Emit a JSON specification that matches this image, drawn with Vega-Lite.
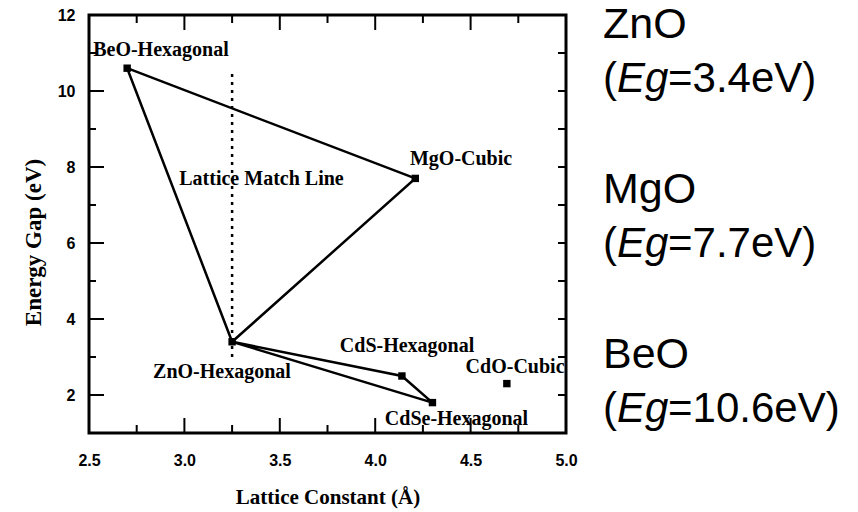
{
  "$schema": "https://vega.github.io/schema/vega-lite/v6.json",
  "width": 477,
  "height": 418,
  "autosize": {"type": "none"},
  "padding": {"left": 89, "top": 15, "right": 292, "bottom": 79},
  "background": "white",
  "config": {
    "view": {"stroke": "black", "strokeWidth": 3},
    "axis": {
      "grid": false,
      "domain": false,
      "labelColor": "black",
      "titleColor": "black",
      "labelFlush": false
    }
  },
  "datasets": {
    "compounds": [
      {"compound": "BeO", "a": 2.70, "eg": 10.6},
      {"compound": "MgO", "a": 4.21, "eg": 7.7},
      {"compound": "ZnO", "a": 3.25, "eg": 3.4},
      {"compound": "CdS", "a": 4.14, "eg": 2.5},
      {"compound": "CdSe", "a": 4.30, "eg": 1.8},
      {"compound": "CdO", "a": 4.69, "eg": 2.3}
    ],
    "edges": [
      {"loop": "BeO-MgO-ZnO", "step": 1, "compound": "BeO"},
      {"loop": "BeO-MgO-ZnO", "step": 2, "compound": "MgO"},
      {"loop": "BeO-MgO-ZnO", "step": 3, "compound": "ZnO"},
      {"loop": "BeO-MgO-ZnO", "step": 4, "compound": "BeO"},
      {"loop": "ZnO-CdS-CdSe", "step": 1, "compound": "ZnO"},
      {"loop": "ZnO-CdS-CdSe", "step": 2, "compound": "CdS"},
      {"loop": "ZnO-CdS-CdSe", "step": 3, "compound": "CdSe"},
      {"loop": "ZnO-CdS-CdSe", "step": 4, "compound": "ZnO"}
    ],
    "matchLine": [
      {"a": 3.25, "egLow": 3.0, "egHigh": 10.5}
    ],
    "labels": [
      {"label": "BeO-Hexagonal", "a": 2.877, "eg": 10.92},
      {"label": "MgO-Cubic", "a": 4.45, "eg": 8.05},
      {"label": "Lattice Match Line", "a": 3.404, "eg": 7.53},
      {"label": "ZnO-Hexagonal", "a": 3.197, "eg": 2.45},
      {"label": "CdS-Hexagonal", "a": 4.167, "eg": 3.13},
      {"label": "CdO-Cubic", "a": 4.733, "eg": 2.58},
      {"label": "CdSe-Hexagonal", "a": 4.426, "eg": 1.21}
    ],
    "notes": [
      {"compound": "ZnO", "eg": 3.4, "noteEg": 11.39},
      {"compound": "MgO", "eg": 7.7, "noteEg": 7.05},
      {"compound": "BeO", "eg": 10.6, "noteEg": 2.71}
    ],
    "ticks": [
      {"side": "bottom", "value": 2.75, "major": false},
      {"side": "bottom", "value": 3.0, "major": true},
      {"side": "bottom", "value": 3.25, "major": false},
      {"side": "bottom", "value": 3.5, "major": true},
      {"side": "bottom", "value": 3.75, "major": false},
      {"side": "bottom", "value": 4.0, "major": true},
      {"side": "bottom", "value": 4.25, "major": false},
      {"side": "bottom", "value": 4.5, "major": true},
      {"side": "bottom", "value": 4.75, "major": false},
      {"side": "top", "value": 2.75, "major": false},
      {"side": "top", "value": 3.0, "major": true},
      {"side": "top", "value": 3.25, "major": false},
      {"side": "top", "value": 3.5, "major": true},
      {"side": "top", "value": 3.75, "major": false},
      {"side": "top", "value": 4.0, "major": true},
      {"side": "top", "value": 4.25, "major": false},
      {"side": "top", "value": 4.5, "major": true},
      {"side": "top", "value": 4.75, "major": false},
      {"side": "left", "value": 2, "major": true},
      {"side": "left", "value": 3, "major": false},
      {"side": "left", "value": 4, "major": true},
      {"side": "left", "value": 5, "major": false},
      {"side": "left", "value": 6, "major": true},
      {"side": "left", "value": 7, "major": false},
      {"side": "left", "value": 8, "major": true},
      {"side": "left", "value": 9, "major": false},
      {"side": "left", "value": 10, "major": true},
      {"side": "left", "value": 11, "major": false},
      {"side": "right", "value": 2, "major": false},
      {"side": "right", "value": 3, "major": false},
      {"side": "right", "value": 4, "major": false},
      {"side": "right", "value": 5, "major": false},
      {"side": "right", "value": 6, "major": false},
      {"side": "right", "value": 7, "major": false},
      {"side": "right", "value": 8, "major": false},
      {"side": "right", "value": 9, "major": false},
      {"side": "right", "value": 10, "major": false},
      {"side": "right", "value": 11, "major": false}
    ]
  },
  "layer": [
    {
      "data": {"name": "compounds"},
      "mark": {"type": "point", "shape": "square", "filled": true, "color": "black", "opacity": 1, "size": 55},
      "encoding": {
        "x": {
          "field": "a", "type": "quantitative",
          "scale": {"domain": [2.5, 5], "nice": false, "zero": false},
          "axis": {
            "orient": "bottom", "values": [2.5, 3, 3.5, 4, 4.5, 5], "format": ".1f",
            "ticks": false, "tickSize": 0, "labelPadding": 19,
            "labelFont": "Liberation Sans", "labelFontWeight": "bold", "labelFontSize": 16,
            "title": "Lattice Constant (Å)", "titleFont": "Liberation Serif", "titleFontWeight": "bold",
            "titleFontSize": 21, "titlePadding": 18
          }
        },
        "y": {
          "field": "eg", "type": "quantitative",
          "scale": {"domain": [1, 12], "nice": false, "zero": false},
          "axis": {
            "orient": "left", "values": [2, 4, 6, 8, 10, 12], "format": "d",
            "ticks": false, "tickSize": 0, "labelPadding": 14,
            "labelFont": "Liberation Sans", "labelFontWeight": "bold", "labelFontSize": 16,
            "title": "Energy Gap (eV)", "titleFont": "Liberation Serif", "titleFontWeight": "bold",
            "titleFontSize": 23, "titlePadding": 12, "titleY": 227
          }
        }
      }
    },
    {
      "data": {"name": "edges"},
      "transform": [
        {"lookup": "compound", "from": {"data": {"name": "compounds"}, "key": "compound", "fields": ["a", "eg"]}}
      ],
      "mark": {"type": "line", "color": "black", "strokeWidth": 2.5, "strokeJoin": "miter"},
      "encoding": {
        "x": {"field": "a", "type": "quantitative", "axis": null},
        "y": {"field": "eg", "type": "quantitative", "axis": null},
        "detail": {"field": "loop"},
        "order": {"field": "step"}
      }
    },
    {
      "data": {"name": "matchLine"},
      "mark": {"type": "rule", "color": "black", "strokeWidth": 2.5, "strokeDash": [3, 5]},
      "encoding": {
        "x": {"field": "a", "type": "quantitative", "axis": null},
        "y": {"field": "egLow", "type": "quantitative", "axis": null},
        "y2": {"field": "egHigh"}
      }
    },
    {
      "data": {"name": "ticks"},
      "transform": [
        {"calculate": "datum.side === 'right' ? 8 : (datum.major ? 15 : (datum.side === 'left' ? 7 : 8))", "as": "px"},
        {"calculate": "datum.side === 'left' ? 2.5 : (datum.side === 'right' ? 5 : datum.value)", "as": "tx0"},
        {"calculate": "datum.side === 'left' ? 2.5 + datum.px / 190.8 : (datum.side === 'right' ? 5 - datum.px / 190.8 : datum.value)", "as": "tx1"},
        {"calculate": "datum.side === 'bottom' ? 1 : (datum.side === 'top' ? 12 : datum.value)", "as": "ty0"},
        {"calculate": "datum.side === 'bottom' ? 1 + datum.px / 38 : (datum.side === 'top' ? 12 - datum.px / 38 : datum.value)", "as": "ty1"}
      ],
      "mark": {"type": "rule", "color": "black", "strokeWidth": 2},
      "encoding": {
        "x": {"field": "tx0", "type": "quantitative", "axis": null},
        "x2": {"field": "tx1"},
        "y": {"field": "ty0", "type": "quantitative", "axis": null},
        "y2": {"field": "ty1"}
      }
    },
    {
      "data": {"name": "labels"},
      "mark": {"type": "text", "font": "Liberation Serif", "fontWeight": "bold", "fontSize": 20, "color": "black", "align": "center", "baseline": "alphabetic"},
      "encoding": {
        "x": {"field": "a", "type": "quantitative", "axis": null},
        "y": {"field": "eg", "type": "quantitative", "axis": null},
        "text": {"field": "label"}
      }
    },
    {
      "data": {"name": "notes"},
      "mark": {"type": "text", "font": "Liberation Sans", "fontSize": 43, "color": "black", "align": "left", "baseline": "alphabetic"},
      "encoding": {
        "x": {"datum": 5.194, "type": "quantitative", "axis": null},
        "y": {"field": "noteEg", "type": "quantitative", "axis": null},
        "text": {"field": "compound"}
      }
    },
    {
      "data": {"name": "notes"},
      "mark": {"type": "text", "font": "Liberation Sans", "fontSize": 42, "color": "black", "align": "left", "baseline": "alphabetic", "dy": 54},
      "encoding": {
        "x": {"datum": 5.194, "type": "quantitative", "axis": null},
        "y": {"field": "noteEg", "type": "quantitative", "axis": null},
        "text": {"value": "("}
      }
    },
    {
      "data": {"name": "notes"},
      "mark": {"type": "text", "font": "Liberation Sans", "fontSize": 42, "fontStyle": "italic", "color": "black", "align": "left", "baseline": "alphabetic", "dx": 14, "dy": 54},
      "encoding": {
        "x": {"datum": 5.194, "type": "quantitative", "axis": null},
        "y": {"field": "noteEg", "type": "quantitative", "axis": null},
        "text": {"value": "Eg"}
      }
    },
    {
      "data": {"name": "notes"},
      "transform": [{"calculate": "'=' + format(datum.eg, '.1f') + 'eV)'", "as": "egText"}],
      "mark": {"type": "text", "font": "Liberation Sans", "fontSize": 42, "color": "black", "align": "left", "baseline": "alphabetic", "dx": 65, "dy": 54},
      "encoding": {
        "x": {"datum": 5.194, "type": "quantitative", "axis": null},
        "y": {"field": "noteEg", "type": "quantitative", "axis": null},
        "text": {"field": "egText"}
      }
    }
  ],
  "resolve": {"axis": {"x": "independent", "y": "independent"}}
}
